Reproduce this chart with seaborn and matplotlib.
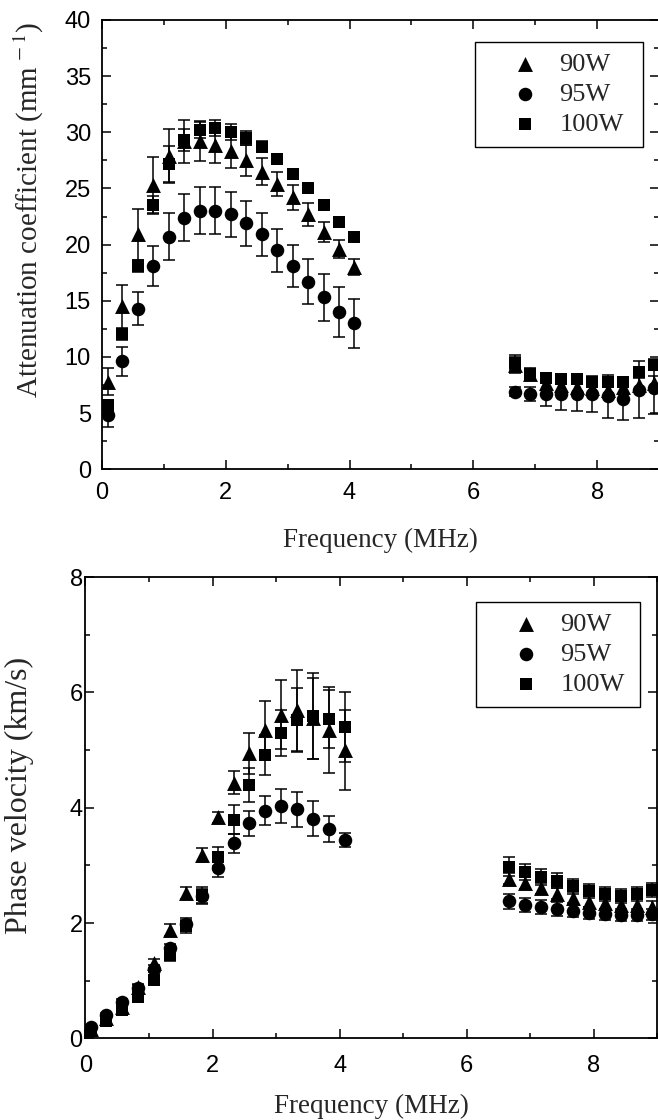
import numpy as np
import pandas as pd
import seaborn as sns
import matplotlib.pyplot as plt
from matplotlib.ticker import MultipleLocator

# frequencies (MHz) of the two measured bands
freq_low = [0.09, 0.33, 0.58, 0.83, 1.08, 1.33, 1.58, 1.83, 2.08, 2.33,
            2.58, 2.83, 3.08, 3.33, 3.58, 3.83, 4.08]
freq_high = [6.67, 6.92, 7.17, 7.42, 7.67, 7.92, 8.17, 8.42, 8.67, 8.92]

powers = ["90W", "95W", "100W"]

# attenuation coefficient (mm^-1)
att_90_low = [7.8, 14.5, 20.9, 25.3, 27.9, 29.2, 29.2, 28.9, 28.3, 27.5,
              26.5, 25.4, 24.2, 22.7, 21.1, 19.6, 18.0]
att_95_low = [4.8, 9.6, 14.3, 18.1, 20.7, 22.4, 23.0, 23.0, 22.7, 21.9,
              20.9, 19.5, 18.1, 16.7, 15.3, 14.0, 13.0]
att_100_low = [5.7, 12.0, 18.1, 23.5, 27.2, 29.3, 30.2, 30.4, 30.0, 29.5,
               28.7, 27.6, 26.3, 25.0, 23.5, 22.0, 20.7]
att_90_high = [9.3, 8.5, 7.7, 7.5, 7.3, 7.2, 7.1, 7.3, 7.5, 7.7]
att_95_high = [6.9, 6.7, 6.7, 6.7, 6.7, 6.7, 6.5, 6.3, 7.1, 7.2]
att_100_high = [9.5, 8.5, 8.1, 8.0, 8.0, 7.8, 7.8, 7.8, 8.7, 9.3]

att_90_err_low = [1.2, 1.9, 2.3, 2.5, 2.4, 1.9, 1.8, 1.6, 1.5, 1.4,
                  1.2, 1.1, 1.1, 1.0, 0.9, 0.8, 0.7]
att_95_err_low = [1.0, 1.3, 1.5, 1.8, 2.1, 2.1, 2.1, 2.1, 2.0, 2.0,
                  1.9, 1.9, 1.9, 2.0, 2.1, 2.2, 2.2]
att_100_err_low = [0.5, 0.5, 0.5, 0.8, 1.6, 1.0, 0.7, 0.7, 0.7, 0.6,
                   0.5, 0.4, 0.3, 0.3, 0.3, 0.3, 0.3]
att_90_err_high = [0.7, 0.5, 0.6, 0.6, 0.6, 0.6, 0.6, 0.6, 0.6, 0.6]
att_95_err_high = [0.4, 0.6, 1.1, 1.4, 1.5, 1.6, 1.9, 1.9, 2.5, 2.3]
att_100_err_high = [0.7, 0.4, 0.4, 0.4, 0.4, 0.4, 0.4, 0.4, 0.4, 0.5]

# phase velocity (km/s)
vel_90_low = [0.17, 0.35, 0.55, 0.89, 1.30, 1.88, 2.52, 3.18, 3.83, 4.43,
              4.94, 5.35, 5.61, 5.69, 5.55, 5.35, 5.00]
vel_95_low = [0.20, 0.40, 0.63, 0.87, 1.21, 1.56, 1.99, 2.46, 2.95, 3.38,
              3.73, 3.95, 4.03, 3.97, 3.81, 3.63, 3.44]
vel_100_low = [0.12, 0.30, 0.49, 0.72, 1.01, 1.44, 1.94, 2.48, 3.15, 3.79,
               4.39, 4.91, 5.30, 5.52, 5.59, 5.54, 5.40]
vel_90_high = [2.77, 2.69, 2.60, 2.51, 2.44, 2.37, 2.34, 2.31, 2.31, 2.28]
vel_95_high = [2.38, 2.31, 2.28, 2.25, 2.21, 2.17, 2.15, 2.14, 2.14, 2.15]
vel_100_high = [2.98, 2.89, 2.80, 2.73, 2.64, 2.55, 2.50, 2.47, 2.50, 2.57]

vel_90_err_low = [0.05, 0.05, 0.05, 0.06, 0.08, 0.10, 0.10, 0.12, 0.10, 0.20,
                  0.35, 0.50, 0.60, 0.70, 0.70, 0.75, 0.70]
vel_95_err_low = [0.03, 0.04, 0.05, 0.05, 0.06, 0.08, 0.10, 0.13, 0.15, 0.17,
                  0.22, 0.25, 0.30, 0.30, 0.30, 0.22, 0.12]
vel_100_err_low = [0.03, 0.04, 0.05, 0.06, 0.08, 0.10, 0.12, 0.14, 0.16, 0.25,
                   0.30, 0.35, 0.40, 0.55, 0.75, 0.50, 0.60]
vel_90_err_high = [0.10, 0.10, 0.10, 0.10, 0.10, 0.10, 0.10, 0.10, 0.10, 0.10]
vel_95_err_high = [0.13, 0.12, 0.12, 0.12, 0.10, 0.10, 0.10, 0.10, 0.10, 0.10]
vel_100_err_high = [0.16, 0.14, 0.14, 0.13, 0.13, 0.12, 0.12, 0.12, 0.12, 0.12]

markers = {"90W": "^", "95W": "o", "100W": "s"}
marker_sizes = {"90W": 115, "95W": 95, "100W": 68}

sns.set_theme(style="ticks")
plt.rcParams["mathtext.fontset"] = "stix"
SERIF = ["Liberation Serif", "DejaVu Serif"]
SANS = ["Liberation Sans", "DejaVu Sans"]


def build_frame(low, high, err_low, err_high):
    rows = []
    for p in powers:
        for f, v, e in zip(freq_low, low[p], err_low[p]):
            rows.append({"freq": f, "value": v, "err": e, "power": p})
        for f, v, e in zip(freq_high, high[p], err_high[p]):
            rows.append({"freq": f, "value": v, "err": e, "power": p})
    return pd.DataFrame(rows)


att_df = build_frame(
    {"90W": att_90_low, "95W": att_95_low, "100W": att_100_low},
    {"90W": att_90_high, "95W": att_95_high, "100W": att_100_high},
    {"90W": att_90_err_low, "95W": att_95_err_low, "100W": att_100_err_low},
    {"90W": att_90_err_high, "95W": att_95_err_high, "100W": att_100_err_high},
)
vel_df = build_frame(
    {"90W": vel_90_low, "95W": vel_95_low, "100W": vel_100_low},
    {"90W": vel_90_high, "95W": vel_95_high, "100W": vel_100_high},
    {"90W": vel_90_err_low, "95W": vel_95_err_low, "100W": vel_100_err_low},
    {"90W": vel_90_err_high, "95W": vel_95_err_high, "100W": vel_100_err_high},
)


def draw_panel(ax, df):
    for p in powers:
        sub = df[df["power"] == p]
        ax.errorbar(sub["freq"], sub["value"], yerr=sub["err"], fmt="none",
                    ecolor="black", elinewidth=1.1, capsize=4.3, capthick=1.1,
                    zorder=2)
    for p in powers:
        sub = df[df["power"] == p]
        sns.scatterplot(x=sub["freq"], y=sub["value"], marker=markers[p],
                        s=marker_sizes[p], color="black", edgecolor="black",
                        linewidth=0, label=p, ax=ax, zorder=3)
    ax.set_xlim(0, 9)
    ax.xaxis.set_major_locator(MultipleLocator(2))
    ax.xaxis.set_minor_locator(MultipleLocator(1))
    ax.tick_params(which="both", direction="in", top=True, right=True,
                   width=1.1, colors="black")
    ax.tick_params(which="major", length=6.5)
    ax.tick_params(which="minor", length=3.5)
    for s in ax.spines.values():
        s.set_linewidth(1.3)
        s.set_color("black")
    for lab in ax.get_xticklabels() + ax.get_yticklabels():
        lab.set_family(SANS)
        lab.set_fontsize(17)
    ax.set_xlabel("Frequency (MHz)", family=SERIF, fontsize=19.5)


fig = plt.figure(figsize=(6.58, 11.2), dpi=100)
ax1 = fig.add_axes([0.155, 0.581, 0.8465, 0.4012])
ax2 = fig.add_axes([0.1299, 0.0729, 0.8693, 0.4119])

# attenuation panel
ax1.set_ylim(0, 40)
ax1.yaxis.set_major_locator(MultipleLocator(5))
ax1.yaxis.set_minor_locator(MultipleLocator(2.5))
draw_panel(ax1, att_df)
ax1.tick_params(axis="y", pad=8)
ax1.tick_params(axis="x", pad=9)
ax1.set_ylabel(r"Attenuation coefficient (mm$^{\,-1}$)", family=SERIF,
               fontsize=21)
ax1.yaxis.set_label_coords(-0.10, 0.577)
ax1.xaxis.set_label_coords(0.5, -0.13)

# phase velocity panel
ax2.set_ylim(0, 8)
ax2.yaxis.set_major_locator(MultipleLocator(2))
ax2.yaxis.set_minor_locator(MultipleLocator(1))
draw_panel(ax2, vel_df)
ax2.tick_params(axis="y", pad=2)
ax2.tick_params(axis="x", pad=12)
ax2.set_ylabel("Phase velocity (km/s)", family=SERIF, fontsize=23)
ax2.yaxis.set_label_coords(-0.09, 0.527)
ax2.xaxis.set_label_coords(0.5, -0.12)

for ax, anchor in [(ax1, (0.67, 0.951, 0.3016, 0.0)),
                   (ax2, (0.683, 0.946, 0.2867, 0.0))]:
    leg = ax.legend(loc="upper left", bbox_to_anchor=anchor, mode="expand",
                    borderaxespad=0.0, frameon=True, fancybox=False,
                    edgecolor="black", framealpha=1,
                    prop={"family": SERIF, "size": 19},
                    handletextpad=-0.2, labelspacing=0.25, borderpad=0.4,
                    handlelength=3.0)
    leg.get_frame().set_linewidth(1.0)

fig.savefig("out.png", dpi=100)
